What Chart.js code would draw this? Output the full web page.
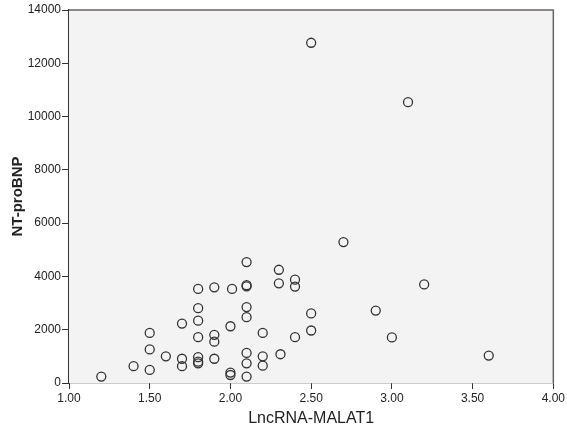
<!DOCTYPE html>
<html>
<head>
<meta charset="utf-8">
<script src="https://cdn.jsdelivr.net/npm/chart.js@4"></script>
<style>
html,body{margin:0;padding:0;background:#fff;}
#wrap{width:567px;height:428px;position:relative;}
</style>
</head>
<body>
<div id="wrap"><canvas id="c" width="567" height="428"></canvas></div>
<script>
// LncRNA-MALAT1 values (x) and NT-proBNP values (y)
const malat1 = [
  1.20,
  1.40,
  1.50, 1.50, 1.50,
  1.60,
  1.70, 1.70, 1.70,
  1.80, 1.80, 1.80, 1.80, 1.80, 1.80, 1.80,
  1.90, 1.90, 1.90, 1.90,
  2.00, 2.00, 2.00, 2.01,
  2.10, 2.10, 2.10, 2.10, 2.10, 2.10, 2.10, 2.10,
  2.20, 2.20, 2.20,
  2.31, 2.30, 2.30,
  2.40, 2.40, 2.40,
  2.50, 2.50, 2.50,
  2.70,
  2.90,
  3.00,
  3.10,
  3.20,
  3.60
];
const ntProBNP = [
  240,
  630,
  490, 1260, 1880,
  1000,
  630, 910, 2230,
  740, 800, 970, 1720, 2340, 2810, 3530,
  910, 1550, 1810, 3590,
  300, 390, 2130, 3530,
  240, 740, 1130, 2470, 2850, 3630, 3670, 4540,
  650, 1000, 1880,
  1080, 3740, 4250,
  1720, 3620, 3880,
  1970, 2610, 12770,
  5290,
  2720,
  1710,
  10540,
  3700,
  1030
];
const xTicks = [1.00, 1.50, 2.00, 2.50, 3.00, 3.50, 4.00];
const yTicks = [0, 2000, 4000, 6000, 8000, 10000, 12000, 14000];
const xTitle = 'LncRNA-MALAT1';
const yTitle = 'NT-proBNP';

const points = malat1.map((x, i) => ({x: x, y: ntProBNP[i]}));

const plotBox = {
  id: 'plotBox',
  beforeDatasetsDraw(chart) {
    const {ctx, chartArea: a} = chart;
    ctx.save();
    ctx.fillStyle = '#f3f3f3';
    ctx.fillRect(a.left, a.top, a.right - a.left, a.bottom - a.top);
    ctx.restore();
  },
  afterDatasetsDraw(chart) {
    const {ctx, chartArea: a} = chart;
    ctx.save();
    ctx.strokeStyle = '#6a6464';
    ctx.lineWidth = 1.5;
    ctx.beginPath();
    ctx.moveTo(a.left, a.top);
    ctx.lineTo(a.right, a.top);
    ctx.lineTo(a.right, a.bottom);
    ctx.stroke();
    ctx.restore();
  }
};

const FONT = "'Liberation Sans', Arial, sans-serif";

new Chart(document.getElementById('c'), {
  type: 'scatter',
  data: {
    datasets: [{
      data: points,
      pointRadius: 4.5,
      pointHoverRadius: 4.5,
      pointBorderWidth: 1.3,
      pointBorderColor: '#333333',
      pointBackgroundColor: 'rgba(0,0,0,0)'
    }]
  },
  plugins: [plotBox],
  options: {
    responsive: false,
    animation: false,
    events: [],
    layout: {autoPadding: false, padding: {left: 0, right: 11, top: 10, bottom: 0}},
    plugins: {legend: {display: false}, tooltip: {enabled: false}},
    scales: {
      x: {
        type: 'linear',
        min: 1, max: 4,
        afterBuildTicks(scale) { scale.ticks = xTicks.map(v => ({value: v})); },
        afterFit(scale) { scale.height = 45; },
        grid: {drawOnChartArea: false, tickLength: 6, color: '#333', lineWidth: 1},
        border: {display: true, color: '#333', width: 1.3},
        ticks: {
          color: '#222', padding: 2, maxRotation: 0, autoSkip: false,
          font: {family: FONT, size: 12},
          callback: v => Number(v).toFixed(2)
        },
        title: {display: true, text: xTitle, color: '#222', padding: {top: 0, bottom: 0},
          font: {family: FONT, size: 16}}
      },
      y: {
        type: 'linear',
        min: 0, max: 14000,
        afterBuildTicks(scale) { scale.ticks = yTicks.map(v => ({value: v})); },
        afterFit(scale) { scale.width = 69; },
        grid: {drawOnChartArea: false, tickLength: 7, color: '#333', lineWidth: 1},
        border: {display: true, color: '#333', width: 1.3},
        ticks: {
          color: '#222', padding: 1, autoSkip: false,
          font: {family: FONT, size: 12},
          callback: v => String(v)
        },
        title: {display: true, text: yTitle, color: '#222', padding: {top: 9, bottom: 0},
          font: {family: FONT, size: 15, weight: 'bold'}}
      }
    }
  }
});
</script>
</body>
</html>
